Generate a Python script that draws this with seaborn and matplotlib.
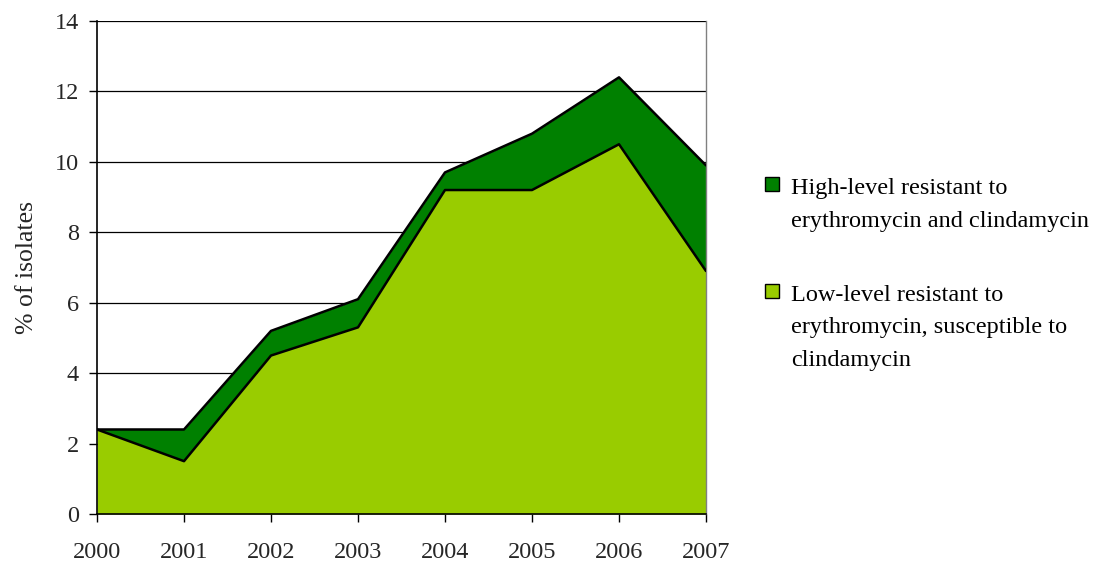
import matplotlib
matplotlib.use("Agg")
import matplotlib.pyplot as plt
from matplotlib.patches import Rectangle
import seaborn as sns
import pandas as pd

years = [2000, 2001, 2002, 2003, 2004, 2005, 2006, 2007]
low_level = [2.4, 1.5, 4.5, 5.3, 9.2, 9.2, 10.5, 6.9]
high_level = [0.0, 0.9, 0.7, 0.8, 0.5, 1.6, 1.9, 3.0]
legend_lines = [
    ["High-level resistant to", "erythromycin and clindamycin"],
    ["Low-level resistant to", "erythromycin, susceptible to", "clindamycin"],
]
y_ticks = [0, 2, 4, 6, 8, 10, 12, 14]

sns.set_theme(style="white")
plt.rcParams["font.family"] = ["Liberation Serif", "DejaVu Serif"]

df = pd.DataFrame({"year": years, "low": low_level, "high": high_level})
df["total"] = df["low"] + df["high"]

dark_green = "#008000"
light_green = "#99CC00"
W, H = 1110, 565

fig = plt.figure(figsize=(W / 100, H / 100), dpi=100)
ax = fig.add_axes([97 / W, 1 - 514 / H, (706 - 97) / W, (514 - 21) / H])

for y in y_ticks[1:]:
    ax.axhline(y, color="black", lw=0.9, zorder=0)

ax.fill_between(df["year"], 0, df["low"], color=light_green, lw=0, zorder=2)
ax.fill_between(df["year"], df["low"], df["total"], color=dark_green, lw=0, zorder=2)
sns.lineplot(data=df, x="year", y="total", color="black", lw=1.8, ax=ax, zorder=3)
sns.lineplot(data=df, x="year", y="low", color="black", lw=1.8, ax=ax, zorder=3)

ax.set_xlim(years[0], years[-1])
ax.set_ylim(0, 14)
ax.set_xticks(years)
ax.set_yticks(y_ticks)
ax.set_xticklabels([str(y) for y in years], fontsize=17.5)
ax.set_yticklabels([str(y) for y in y_ticks], fontsize=17.5)
ax.tick_params(axis="both", direction="out", length=6, width=1, color="black",
               bottom=True, left=True)
ax.tick_params(axis="y", pad=7)
ax.tick_params(axis="x", pad=14)
ax.set_xlabel("")
ax.set_ylabel("% of isolates", fontsize=18.5, labelpad=12)

ax.spines["top"].set_visible(False)
ax.spines["right"].set_color("#808080")
ax.spines["right"].set_linewidth(1.0)
for side in ["left", "bottom"]:
    ax.spines[side].set_color("black")
    ax.spines[side].set_linewidth(1.2)

# Legend drawn by hand: square swatch plus wrapped label lines
entries = [(dark_green, 177, 194), (light_green, 284, 301)]
line_step = 32.5
for (color, sq_top, base), lines in zip(entries, legend_lines):
    fig.patches.append(Rectangle((765 / W, 1 - (sq_top + 14) / H), 14 / W, 14 / H,
                                 transform=fig.transFigure, facecolor=color,
                                 edgecolor="black", lw=1.0))
    for i, line in enumerate(lines):
        fig.text(791 / W, 1 - (base + i * line_step) / H, line, fontsize=17.5,
                 va="baseline", ha="left", color="black")

fig.savefig("out.png", dpi=100)
